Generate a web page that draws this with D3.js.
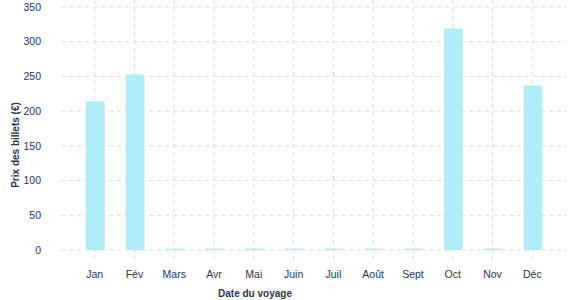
<!DOCTYPE html>
<html><head><meta charset="utf-8">
<script src="https://cdn.jsdelivr.net/npm/d3@7"></script>
<style>body{margin:0;background:#fff}svg{display:block}text{font-family:"Liberation Sans",Arial,sans-serif}</style>
</head><body><svg id="c" width="577" height="300"></svg>
<script>
const months = ["Jan","Fév","Mars","Avr","Mai","Juin","Juil","Août","Sept","Oct","Nov","Déc"];
const prices = [214, 253, 2, 2, 2, 2, 2, 2, 2, 319, 2, 237];
const yTicks = [0, 50, 100, 150, 200, 250, 300, 350];
const xTitle = "Date du voyage";
const yTitle = "Prix des billets (€)";

const svg = d3.select("#c");
const pLeft = 61, pRight = 567, pTop = 0, pBottom = 259;
const x = d3.scaleBand().domain(months).range([74.8, 552.2]).paddingInner(0.56).paddingOuter(0.28);
const y = d3.scaleLinear().domain([0, 350]).range([250, 7]);
const grid = "#dcdcdc", txt = "#2c3550";

svg.append("g").selectAll("line").data(yTicks).join("line")
  .attr("x1", pLeft).attr("x2", pRight).attr("y1", d => y(d)).attr("y2", d => y(d))
  .attr("stroke", grid).attr("stroke-dasharray", "4,4");
svg.append("g").selectAll("line").data(months).join("line")
  .attr("x1", d => x(d) + x.bandwidth()/2).attr("x2", d => x(d) + x.bandwidth()/2)
  .attr("y1", pTop).attr("y2", pBottom)
  .attr("stroke", grid).attr("stroke-dasharray", "4,4");

svg.append("g").selectAll("rect").data(months).join("rect")
  .attr("x", (d) => x(d) + 1.3).attr("width", x.bandwidth())
  .attr("y", (d, i) => y(prices[i]) + 1).attr("height", (d, i) => Math.max(0, y(0) - y(prices[i]) - 1))
  .attr("fill", "#dedede");
svg.append("g").selectAll("rect").data(months).join("rect")
  .attr("x", d => x(d)).attr("width", x.bandwidth())
  .attr("y", (d, i) => y(prices[i])).attr("height", (d, i) => y(0) - y(prices[i]))
  .attr("fill", "#adeef8");

svg.append("g").selectAll("text").data(yTicks).join("text")
  .attr("x", 41).attr("y", d => y(d)).attr("dy", "0.35em")
  .attr("text-anchor", "end").attr("font-size", 10.5).attr("fill", txt).text(d => d);
svg.append("g").selectAll("text").data(months).join("text")
  .attr("x", d => x(d) + x.bandwidth()/2).attr("y", 274).attr("dy", "0.35em")
  .attr("text-anchor", "middle").attr("font-size", 10.5).attr("fill", txt).text(d => d);

svg.append("text").attr("x", 255).attr("y", 293).attr("dy", "0.35em")
  .attr("text-anchor", "middle").attr("font-size", 10).attr("font-weight", "bold")
  .attr("fill", txt).text(xTitle);
svg.append("text").attr("transform", "translate(15,145) rotate(-90)").attr("dy", "0.35em")
  .attr("text-anchor", "middle").attr("font-size", 10).attr("font-weight", "bold")
  .attr("fill", txt).text(yTitle);
</script></body></html>
